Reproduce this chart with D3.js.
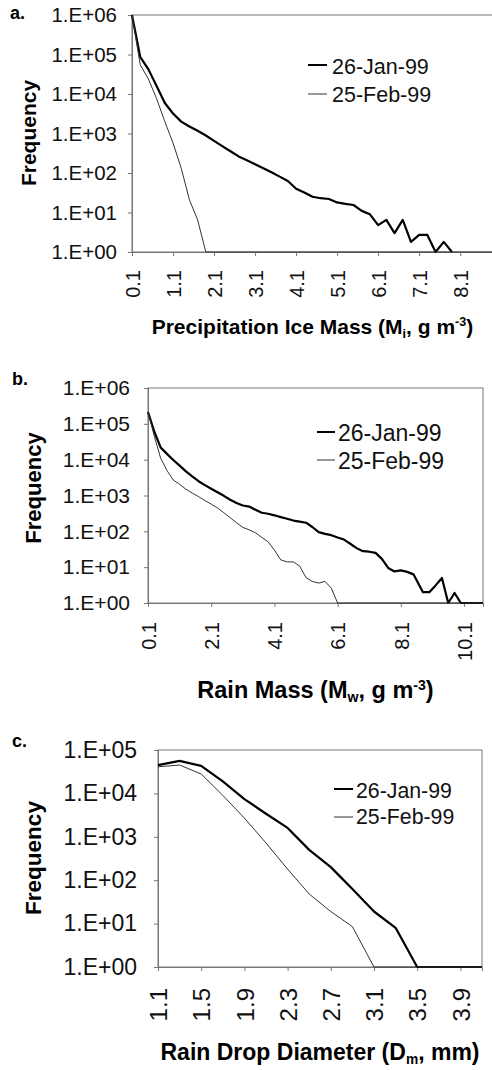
<!DOCTYPE html>
<html>
<head>
<meta charset="utf-8">
<script src="https://cdn.jsdelivr.net/npm/d3@7/dist/d3.min.js"></script>
<style>
  body { margin: 0; background: #fff; }
  svg { display: block; font-family: "Liberation Sans", Arial, sans-serif; }
</style>
</head>
<body>
<div id="chart"></div>
<script>
// series names
var seriesNames = ["26-Jan-99", "25-Feb-99"];

// a. precipitation ice mass
var iceX = [0.1, 0.3, 0.5, 0.7, 0.9, 1.1, 1.3, 1.5, 1.7, 1.9, 2.1, 2.3, 2.5, 2.7, 2.9, 3.1, 3.3, 3.5, 3.7, 3.9,
            4.1, 4.3, 4.5, 4.7, 4.9, 5.1, 5.3, 5.5, 5.7, 5.9, 6.1, 6.3, 6.5, 6.7, 6.9, 7.1, 7.3, 7.5, 7.7, 7.9,
            8.1, 8.3, 8.5, 8.7, 8.9];
var iceJan = [1000000, 87000, 42000, 16000, 5900, 3200, 2000, 1500, 1170, 890, 650, 480, 355, 263, 210, 166, 132, 105, 81, 63,
              40, 32, 25, 23, 22, 18, 16.6, 15.5, 11, 9, 4.8, 6.5, 3, 6.5, 1.8, 2.7, 2.7, 1, 1.8, 1];
var iceFeb = [1000000, 55000, 24000, 7600, 2000, 575, 132, 21, 6.5, 1, 1, 1, 1, 1, 1, 1, 1, 1, 1, 1,
              1, 1, 1, 1, 1, 1, 1, 1, 1, 1, 1, 1, 1, 1, 1, 1, 1, 1, 1, 1,
              1, 1, 1, 1, 1];
var iceTicks = [0.1, 1.1, 2.1, 3.1, 4.1, 5.1, 6.1, 7.1, 8.1];

// b. rain mass
var rainJanX = [0.1, 0.3, 0.5, 0.7, 0.9, 1.1, 1.3, 1.5, 1.7, 1.9, 2.1, 2.3, 2.5, 2.7, 2.9, 3.1, 3.3, 3.5, 3.7, 3.9,
                4.1, 4.3, 4.5, 4.7, 4.9, 5.1, 5.3, 5.5, 5.7, 5.9, 6.1, 6.3, 6.5, 6.7, 6.9, 7.1, 7.3, 7.5, 7.7, 7.9,
                8.1, 8.3, 8.5, 8.8, 9.0, 9.2, 9.4, 9.6, 9.8, 10.0, 10.2, 10.4, 10.7];
var rainJan = [214000, 60000, 22000, 14500, 9800, 6800, 4700, 3400, 2500, 1950, 1550, 1230, 980, 760, 620, 525, 490, 400, 330, 310,
               280, 250, 224, 200, 186, 174, 132, 95, 85, 78, 67, 59, 45, 34, 28, 27, 25, 17, 9.5, 7.6,
               8.1, 7.4, 6.3, 2, 2, 3.1, 5, 1, 1.9, 1, 1, 1, 1];
var rainFebX = [0.1, 0.3, 0.5, 0.7, 0.9, 1.1, 1.3, 1.5, 1.7, 1.9, 2.1, 2.3, 2.5, 2.7, 2.9, 3.1, 3.3, 3.5, 3.7, 3.9,
                4.1, 4.3, 4.5, 4.7, 4.9, 5.1, 5.3, 5.5, 5.7, 5.9, 6.1, 10.7];
var rainFeb = [214000, 45000, 11000, 5000, 2700, 2050, 1500, 1170, 930, 725, 575, 450, 330, 240, 174, 129, 110, 91, 68, 51,
               30, 16, 14, 14, 10.7, 5.1, 4, 3.6, 4, 2.6, 1, 1];
var rainTicks = [0.1, 2.1, 4.1, 6.1, 8.1, 10.1];

// c. rain drop diameter
var dropX = [1.1, 1.3, 1.5, 1.7, 1.9, 2.1, 2.3, 2.5, 2.7, 2.9, 3.1, 3.3, 3.5, 3.7, 3.9, 4.1];
var dropJan = [45000, 56000, 43000, 19000, 7400, 3400, 1600, 500, 200, 63, 19, 8, 1, 1, 1, 1];
var dropFeb = [41000, 45000, 28000, 9000, 2700, 720, 180, 48, 19, 8.5, 1, 1, 1, 1, 1, 1];
var dropTicks = [1.1, 1.5, 1.9, 2.3, 2.7, 3.1, 3.5, 3.9];

var yTicks6 = [1, 10, 100, 1e3, 1e4, 1e5, 1e6];
var yTicks5 = [1, 10, 100, 1e3, 1e4, 1e5];

var svg = d3.select("#chart").append("svg")
    .attr("width", 492)
    .attr("height", 1070);

function expLabel(d) {
    var p = Math.round(Math.log10(d));
    return "1.E+" + (p < 10 ? "0" : "") + p;
}

function drawPanel(o) {
    var x = d3.scaleLinear().domain(o.xDomain).range([o.left, o.right]);
    var y = d3.scaleLog().domain(o.yDomain).range([o.bottom, o.top]).clamp(true);
    var g = svg.append("g");

    // frame
    g.append("rect")
        .attr("x", o.left).attr("y", o.top)
        .attr("width", o.right - o.left).attr("height", o.bottom - o.top)
        .attr("fill", "none").attr("stroke", "#777").attr("stroke-width", 1);

    var ya = g.append("g")
        .attr("transform", "translate(" + o.left + ",0)")
        .call(d3.axisLeft(y).tickValues(o.yTicks).tickFormat(expLabel).tickSize(4).tickPadding(o.yPad));
    ya.select(".domain").attr("stroke", "#777");
    ya.selectAll("line").attr("stroke", "#777");
    ya.selectAll("text").attr("font-size", o.fsTick).attr("fill", "#111").attr("font-family", null);

    var xa = g.append("g")
        .attr("transform", "translate(0," + o.bottom + ")")
        .call(d3.axisBottom(x).tickValues(o.xTicks).tickFormat(d3.format(".1f")).tickSize(4));
    xa.select(".domain").attr("stroke", "#777");
    xa.selectAll("line").attr("stroke", "#777");
    xa.selectAll("text")
        .attr("font-size", o.fsXTick).attr("fill", "#111").attr("font-family", null)
        .attr("transform", "rotate(-90)")
        .attr("x", -o.xPad).attr("y", 0).attr("dy", "0.36em")
        .style("text-anchor", "end");

    var line = d3.line()
        .x(function (d) { return x(d[0]); })
        .y(function (d) { return y(d[1]); });

    o.series.forEach(function (s, i) {
        var pts = s.ys.map(function (v, k) { return [s.xs[k], v]; });
        g.append("path")
            .datum(pts)
            .attr("fill", "none")
            .attr("stroke", i == 0 ? "#000" : "#333")
            .attr("stroke-width", i == 0 ? 2.2 : 1)
            .attr("stroke-linejoin", "round")
            .attr("d", line);
    });

    // legend
    seriesNames.forEach(function (name, i) {
        g.append("line")
            .attr("x1", o.leg.x0).attr("x2", o.leg.x1)
            .attr("y1", o.leg.ly[i]).attr("y2", o.leg.ly[i])
            .attr("stroke", i == 0 ? "#000" : "#333")
            .attr("stroke-width", i == 0 ? 2 : 1);
        g.append("text")
            .attr("x", o.leg.tx).attr("y", o.leg.ty[i])
            .attr("font-size", o.fsLegend).attr("fill", "#111")
            .text(name);
    });

    // panel letter
    g.append("text")
        .attr("x", o.tag.x).attr("y", o.tag.y)
        .attr("font-size", 18).attr("font-weight", "bold")
        .text(o.tag.text);

    // y title
    g.append("text")
        .attr("transform", "translate(" + o.freq.x + "," + o.freq.y + ") rotate(-90)")
        .attr("text-anchor", "middle")
        .attr("font-size", o.fsFreq).attr("font-weight", "bold")
        .text("Frequency");

    // x title
    var t = g.append("text")
        .attr("x", (o.left + o.right) / 2).attr("y", o.titleY)
        .attr("text-anchor", "middle")
        .attr("font-size", o.fsTitle).attr("font-weight", "bold");
    o.title.forEach(function (part) {
        var ts = t.append("tspan").text(part[0]);
        if (part[1] == "sub") ts.attr("font-size", o.fsTitle * 0.6).attr("dy", 4);
        if (part[1] == "sup") ts.attr("font-size", o.fsTitle * 0.6).attr("dy", -8);
        if (part[1] == "back") ts.attr("dy", part[2]);
    });
}

drawPanel({
    left: 132, right: 493, top: 15, bottom: 252,
    xDomain: [0.1, 8.9], yDomain: [1, 1e6],
    xTicks: iceTicks, yTicks: yTicks6,
    yPad: 11, xPad: 18,
    fsTick: 20.5, fsXTick: 20, fsLegend: 21.5, fsFreq: 21, fsTitle: 21,
    series: [{xs: iceX, ys: iceJan}, {xs: iceX, ys: iceFeb}],
    leg: {x0: 308, x1: 327, ly: [65, 94], tx: 332, ty: [74, 102]},
    tag: {x: 10, y: 19, text: "a."},
    freq: {x: 36, y: 133},
    titleY: 334,
    title: [["Precipitation Ice Mass (M"], ["i", "sub"], [", g m", "back", -4], ["-3", "sup"], [")", "back", 8]]
});

drawPanel({
    left: 148, right: 483, top: 388, bottom: 603,
    xDomain: [0.1, 10.7], yDomain: [1, 1e6],
    xTicks: rainTicks, yTicks: yTicks6,
    yPad: 14, xPad: 19,
    fsTick: 21, fsXTick: 20, fsLegend: 23, fsFreq: 22, fsTitle: 23.5,
    series: [{xs: rainJanX, ys: rainJan}, {xs: rainFebX, ys: rainFeb}],
    leg: {x0: 317, x1: 335, ly: [432, 460], tx: 338, ty: [441, 469]},
    tag: {x: 12, y: 385, text: "b."},
    freq: {x: 41, y: 488},
    titleY: 698,
    title: [["Rain Mass (M"], ["w", "sub"], [", g m", "back", -4], ["-3", "sup"], [")", "back", 8]]
});

drawPanel({
    left: 158, right: 482, top: 750, bottom: 967,
    xDomain: [1.1, 4.1], yDomain: [1, 1e5],
    xTicks: dropTicks, yTicks: yTicks5,
    yPad: 17, xPad: 21,
    fsTick: 23, fsXTick: 24, fsLegend: 21.3, fsFreq: 22.5, fsTitle: 23,
    series: [{xs: dropX, ys: dropJan}, {xs: dropX, ys: dropFeb}],
    leg: {x0: 334, x1: 353, ly: [789, 817], tx: 356, ty: [798, 824]},
    tag: {x: 12, y: 747, text: "c."},
    freq: {x: 41, y: 858},
    titleY: 1060,
    title: [["Rain Drop Diameter (D"], ["m", "sub"], [", mm)", "back", -4]]
});
</script>
</body>
</html>
